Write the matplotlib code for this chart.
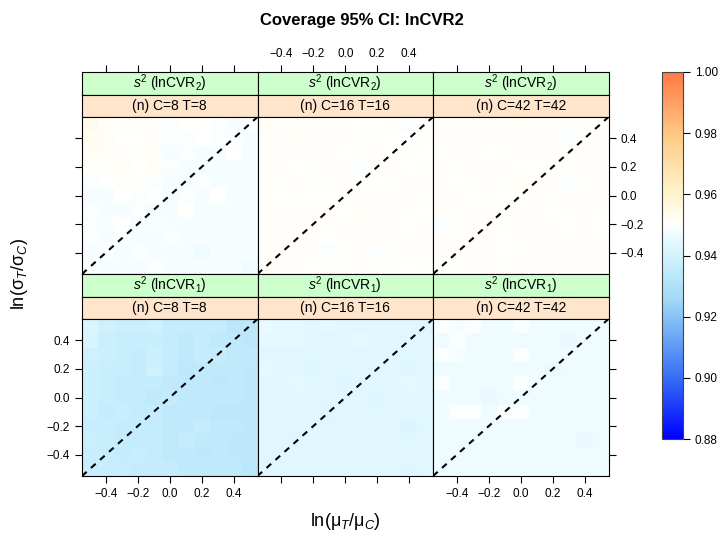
import matplotlib
matplotlib.use('Agg')
import matplotlib.pyplot as plt
import numpy as np
from matplotlib.colors import LinearSegmentedColormap, Normalize

plt.rcParams['font.family'] = ['Liberation Sans', 'DejaVu Sans']
plt.rcParams['mathtext.fontset'] = 'custom'
plt.rcParams['mathtext.rm'] = 'Liberation Sans'
plt.rcParams['mathtext.it'] = 'Liberation Sans:italic'
plt.rcParams['mathtext.bf'] = 'Liberation Sans:bold'

# grid centres
ln_mu = [-0.5, -0.4, -0.3, -0.2, -0.1, 0.0, 0.1, 0.2, 0.3, 0.4, 0.5]
ln_sd = [-0.5, -0.4, -0.3, -0.2, -0.1, 0.0, 0.1, 0.2, 0.3, 0.4, 0.5]

sizes = ['(n) C=8 T=8', '(n) C=16 T=16', '(n) C=42 T=42']
methods = [r'$s^2$ (lnCVR$_2$)', r'$s^2$ (lnCVR$_1$)']

# coverage, rows listed from ln_sd = 0.5 (top) down to -0.5
cov_cvr2_n8 = [
    [.954, .952, .951, .951, .952, .949, .950, .950, .949, .948, .949],
    [.953, .952, .950, .950, .951, .949, .949, .950, .949, .949, .948],
    [.952, .952, .951, .951, .952, .948, .949, .948, .948, .950, .948],
    [.951, .951, .952, .950, .952, .949, .948, .948, .948, .948, .948],
    [.949, .950, .951, .951, .949, .948, .948, .949, .948, .948, .948],
    [.948, .948, .950, .949, .950, .948, .949, .948, .950, .948, .948],
    [.949, .948, .948, .949, .948, .948, .950, .948, .948, .948, .948],
    [.949, .949, .950, .948, .949, .948, .948, .948, .948, .948, .948],
    [.949, .948, .949, .948, .948, .949, .948, .948, .948, .948, .948],
    [.948, .949, .948, .949, .948, .948, .948, .947, .948, .948, .948],
    [.949, .948, .948, .948, .949, .948, .948, .948, .948, .948, .947],
]
cov_cvr2_n16 = [
    [.952, .951, .951, .951, .951, .951, .950, .950, .951, .949, .950],
    [.951, .951, .952, .951, .951, .951, .951, .951, .950, .950, .951],
    [.951, .951, .951, .951, .951, .950, .951, .951, .950, .951, .950],
    [.951, .951, .950, .951, .951, .951, .949, .951, .951, .950, .951],
    [.951, .951, .951, .951, .951, .951, .951, .950, .951, .951, .951],
    [.951, .950, .951, .950, .950, .951, .951, .951, .951, .951, .951],
    [.951, .951, .951, .951, .951, .950, .952, .951, .951, .951, .950],
    [.951, .951, .951, .951, .951, .951, .951, .951, .951, .950, .951],
    [.951, .951, .951, .951, .950, .951, .951, .951, .951, .951, .951],
    [.951, .951, .951, .951, .949, .951, .951, .949, .951, .951, .951],
    [.951, .951, .951, .950, .951, .951, .951, .951, .951, .950, .951],
]
cov_cvr2_n42 = [
    [.951, .951, .951, .951, .951, .952, .951, .951, .951, .951, .951],
    [.951, .951, .951, .951, .951, .951, .951, .951, .949, .951, .951],
    [.951, .951, .951, .950, .951, .951, .951, .951, .951, .951, .951],
    [.951, .951, .951, .951, .951, .950, .950, .951, .951, .951, .951],
    [.951, .950, .951, .951, .951, .952, .951, .951, .949, .951, .951],
    [.951, .951, .950, .951, .950, .951, .951, .951, .951, .951, .951],
    [.951, .951, .951, .951, .951, .951, .951, .950, .951, .951, .951],
    [.949, .951, .951, .951, .951, .951, .951, .951, .950, .951, .950],
    [.951, .951, .951, .951, .950, .951, .951, .951, .951, .951, .951],
    [.951, .951, .951, .951, .950, .951, .951, .951, .951, .951, .951],
    [.950, .951, .951, .951, .951, .951, .951, .951, .951, .951, .951],
]
cov_cvr1_n8 = [
    [.942, .939, .938, .938, .939, .936, .936, .936, .936, .933, .934],
    [.941, .938, .937, .937, .937, .936, .935, .936, .935, .935, .934],
    [.939, .938, .937, .936, .938, .936, .935, .936, .936, .935, .935],
    [.938, .937, .937, .936, .939, .936, .934, .935, .935, .935, .934],
    [.938, .937, .936, .936, .936, .935, .935, .935, .934, .935, .934],
    [.938, .937, .936, .936, .935, .936, .935, .935, .935, .935, .934],
    [.938, .936, .937, .936, .936, .935, .935, .935, .934, .934, .934],
    [.937, .937, .936, .936, .936, .935, .935, .936, .935, .935, .934],
    [.938, .937, .936, .936, .936, .935, .936, .935, .935, .934, .934],
    [.937, .937, .936, .937, .936, .935, .935, .934, .935, .934, .934],
    [.937, .937, .937, .936, .936, .936, .935, .935, .935, .935, .933],
]
cov_cvr1_n16 = [
    [.946, .945, .945, .944, .945, .944, .944, .944, .944, .944, .943],
    [.945, .945, .945, .944, .944, .944, .945, .944, .944, .944, .944],
    [.944, .944, .944, .944, .944, .944, .944, .944, .944, .944, .944],
    [.945, .944, .944, .943, .944, .944, .944, .944, .944, .943, .944],
    [.944, .944, .945, .944, .944, .943, .944, .944, .944, .945, .944],
    [.944, .944, .944, .944, .944, .944, .944, .943, .944, .944, .944],
    [.944, .944, .944, .944, .943, .944, .944, .944, .944, .944, .944],
    [.944, .944, .944, .944, .944, .944, .944, .944, .944, .942, .944],
    [.944, .944, .943, .944, .944, .944, .944, .944, .944, .944, .944],
    [.944, .944, .944, .944, .944, .944, .944, .944, .944, .944, .944],
    [.944, .944, .944, .944, .944, .944, .944, .944, .944, .943, .944],
]
cov_cvr1_n42 = [
    [.949, .948, .949, .947, .947, .949, .947, .947, .947, .947, .947],
    [.947, .949, .947, .947, .947, .947, .947, .947, .946, .947, .947],
    [.949, .948, .947, .947, .947, .949, .947, .947, .947, .947, .947],
    [.947, .947, .947, .947, .947, .947, .947, .946, .947, .947, .947],
    [.949, .947, .947, .947, .947, .949, .947, .947, .947, .947, .947],
    [.947, .947, .947, .946, .947, .947, .947, .947, .947, .947, .947],
    [.947, .949, .949, .947, .949, .949, .947, .947, .947, .947, .947],
    [.947, .947, .947, .947, .947, .947, .947, .947, .947, .947, .947],
    [.947, .947, .947, .947, .947, .947, .947, .947, .947, .946, .947],
    [.947, .947, .947, .947, .947, .947, .947, .947, .947, .947, .947],
    [.947, .947, .947, .947, .947, .947, .947, .947, .947, .947, .947],
]

panels = [[cov_cvr2_n8, cov_cvr2_n16, cov_cvr2_n42],
          [cov_cvr1_n8, cov_cvr1_n16, cov_cvr1_n42]]

vmin, vmax = 0.88, 1.00
anchors = [(0.88, (0, 0, 255)), (0.90, (55, 110, 245)), (0.92, (135, 195, 245)),
           (0.925, (160, 215, 248)), (0.935, (192, 234, 251)), (0.94, (212, 243, 254)),
           (0.945, (228, 248, 255)), (0.95, (255, 255, 255)), (0.96, (255, 245, 205)),
           (0.98, (255, 200, 130)), (1.00, (255, 120, 70))]
cmap = LinearSegmentedColormap.from_list(
    'cov', [((v - vmin) / (vmax - vmin), tuple(c / 255 for c in col)) for v, col in anchors])
norm = Normalize(vmin, vmax)

W, H = 718, 538
fig = plt.figure(figsize=(W / 100, H / 100), dpi=100)

def fx(px):
    return px / W

def fy(px):
    return 1 - px / H

col_left = [82, 257.5, 433]
col_w = 175.5
strip_h = 22.5
row_top = [72, 274]
panel_h = 157

ticks = [-0.4, -0.2, 0.0, 0.2, 0.4]
lim = (-0.55, 0.55)
xe = np.linspace(-0.55, 0.55, 12)
tick_kw = dict(direction='out', length=5, width=0.8, labelsize=8.5, colors='black')

mesh = None
for r in range(2):
    for c in range(3):
        x0 = col_left[c]
        y0 = row_top[r]
        # strips
        for k, (txt, fc) in enumerate([(methods[r], '#ccffcc'), (sizes[c], '#ffe5cc')]):
            sa = fig.add_axes([fx(x0), fy(y0 + strip_h * (k + 1)), fx(col_w), strip_h / H])
            sa.set_facecolor(fc)
            sa.set_xlim(lim)
            sa.set_yticks([])
            sa.text(0.5, 0.5, txt, transform=sa.transAxes, ha='center', va='center', fontsize=10)
            for sp in sa.spines.values():
                sp.set_linewidth(0.8)
            if r == 0 and k == 0:
                sa.xaxis.tick_top()
                sa.set_xticks(ticks)
                sa.tick_params(axis='x', **tick_kw)
                if c != 1:
                    sa.set_xticklabels([])
            else:
                sa.set_xticks([])
        ax = fig.add_axes([fx(x0), fy(y0 + 2 * strip_h + panel_h), fx(col_w), panel_h / H])
        z = np.array(panels[r][c])[::-1]
        mesh = ax.pcolormesh(xe, xe, z, cmap=cmap, norm=norm, shading='flat')
        ax.plot(lim, lim, color='black', lw=1.5, ls=(0, (3, 2.8)))
        ax.set_xlim(lim)
        ax.set_ylim(lim)
        for sp in ax.spines.values():
            sp.set_linewidth(0.8)
        ax.set_xticks(ticks)
        ax.set_yticks(ticks)
        ax.tick_params(**tick_kw)
        # x ticks
        if r == 0:
            ax.tick_params(axis='x', bottom=False, labelbottom=False)
        else:
            ax.tick_params(axis='x', bottom=True, labelbottom=(c != 1))
        # y ticks
        if c == 0:
            ax.tick_params(axis='y', left=True, right=False, labelleft=(r == 1))
        elif c == 2:
            ax.tick_params(axis='y', left=False, right=True, labelleft=False, labelright=(r == 0))
        else:
            ax.tick_params(axis='y', left=False, labelleft=False)

cax = fig.add_axes([fx(662), fy(439), fx(21), (439 - 72) / H])
cb = fig.colorbar(mesh, cax=cax, ticks=[0.88, 0.90, 0.92, 0.94, 0.96, 0.98, 1.00])
cb.ax.set_yticklabels(['%.2f' % t for t in [0.88, 0.90, 0.92, 0.94, 0.96, 0.98, 1.00]])
cb.ax.tick_params(direction='out', length=5, width=0.8, labelsize=8.5)
cb.outline.set_linewidth(0.8)
cb.outline.set_edgecolor('#444444')

fig.text(fx(362), fy(20), 'Coverage 95% CI: lnCVR2', ha='center', va='center',
         fontsize=12, fontweight='bold')
fig.text(fx(345), fy(522), 'ln(μ$_T$/μ$_C$)', ha='center', va='center', fontsize=13)
fig.text(fx(20), fy(274), 'ln(σ$_T$/σ$_C$)', ha='center', va='center',
         fontsize=13, rotation=90)

fig.savefig('out.png', dpi=100)
